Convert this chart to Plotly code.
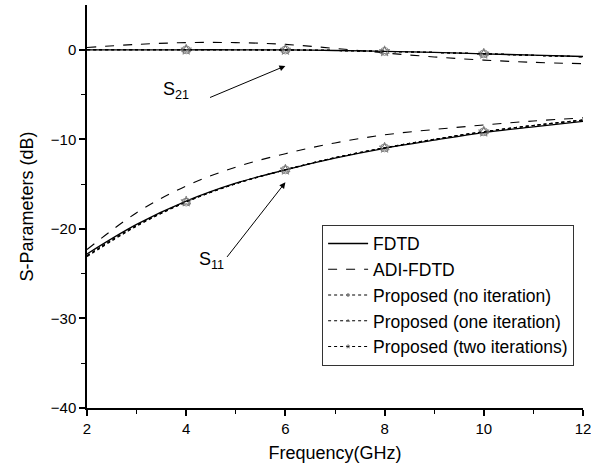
import plotly.graph_objects as go

freq = [2, 3, 4, 5, 6, 7, 8, 9, 10, 11, 12]

# S21 (dB)
s21_fdtd = [0.0, 0.0, 0.0, 0.0, -0.02, -0.08, -0.18, -0.3, -0.45, -0.6, -0.75]
s21_adi = [0.25, 0.6, 0.8, 0.8, 0.6, 0.15, -0.35, -0.8, -1.15, -1.4, -1.55]
s21_prop0 = [0.0, 0.0, 0.0, 0.0, -0.02, -0.08, -0.18, -0.3, -0.45, -0.62, -0.78]
s21_prop1 = [0.0, 0.0, 0.0, 0.0, -0.02, -0.08, -0.18, -0.3, -0.45, -0.62, -0.78]
s21_prop2 = [0.0, 0.0, 0.0, 0.0, -0.02, -0.08, -0.18, -0.3, -0.45, -0.62, -0.78]

# S11 (dB)
s11_fdtd = [-22.8, -19.5, -16.9, -14.9, -13.4, -12.1, -11.0, -10.1, -9.25, -8.6, -8.0]
s11_adi = [-22.3, -18.2, -15.2, -13.1, -11.6, -10.4, -9.5, -8.9, -8.4, -7.95, -7.6]
s11_prop0 = [-23.1, -19.7, -17.0, -14.95, -13.4, -12.05, -10.95, -10.0, -9.15, -8.45, -7.85]
s11_prop1 = [-23.0, -19.65, -17.0, -14.95, -13.4, -12.05, -10.95, -10.0, -9.15, -8.45, -7.85]
s11_prop2 = [-23.0, -19.6, -16.95, -14.95, -13.4, -12.05, -10.95, -10.0, -9.15, -8.45, -7.85]

# marker positions (GHz) used for the proposed curves
marker_freq = [4, 6, 8, 10]

legend_names = ["FDTD", "ADI-FDTD", "Proposed (no iteration)",
                "Proposed (one iteration)", "Proposed (two iterations)"]

x_ticks = [2, 4, 6, 8, 10, 12]
y_ticks = [-40, -30, -20, -10, 0]

msize = [8 if f in marker_freq else 0 for f in freq]

fig = go.Figure()

def add_curve(y, name, dash, show, symbol=None):
    kw = dict(x=freq, y=y, name=name, legendgroup=name, showlegend=show,
              line=dict(color="black", width=1.3 if dash == "solid" else 1.1, dash=dash, shape="spline"),
              hoverinfo="skip")
    if symbol is None:
        kw["mode"] = "lines"
    else:
        kw["mode"] = "lines+markers"
        kw["marker"] = dict(symbol=symbol, size=msize, color="#666666",
                            line=dict(color="#666666", width=1))
    fig.add_trace(go.Scatter(**kw))

for show, ys in [(True, (s11_fdtd, s11_adi, s11_prop0, s11_prop1, s11_prop2)),
                 (False, (s21_fdtd, s21_adi, s21_prop0, s21_prop1, s21_prop2))]:
    add_curve(ys[0], legend_names[0], "solid", show)
    add_curve(ys[1], legend_names[1], "dash", show)
    add_curve(ys[2], legend_names[2], "dot", show, "circle-open")
    add_curve(ys[3], legend_names[3], "dot", show, "triangle-up-open")
    add_curve(ys[4], legend_names[4], "dot", show, "star-open")

font = "Liberation Sans, Arial, sans-serif"

fig.update_layout(
    width=591, height=471,
    margin=dict(l=87, r=8, t=5, b=63),
    plot_bgcolor="white", paper_bgcolor="white",
    font=dict(family=font, color="black", size=15),
    xaxis=dict(range=[2, 12], tickvals=x_ticks, showgrid=False, zeroline=False,
               showline=True, linecolor="black", linewidth=1.5,
               ticks="outside", ticklen=6, tickwidth=1.5, tickcolor="black",
               ticklabeloverflow="allow", automargin=False,
               minor=dict(dtick=1, ticks="outside", ticklen=4, tickwidth=1.2, tickcolor="black"),
               title=dict(text="Frequency(GHz)", font=dict(size=18), standoff=11),
               tickfont=dict(size=15)),
    yaxis=dict(range=[-40, 5], tickvals=y_ticks, showgrid=False, zeroline=False,
               showline=True, linecolor="black", linewidth=1.5,
               ticks="outside", ticklen=6, tickwidth=1.5, tickcolor="black",
               automargin=False,
               minor=dict(tickvals=[-35, -25, -15, -5], ticks="outside", ticklen=4, tickwidth=1.2, tickcolor="black"),
               title=dict(text="S-Parameters (dB)", font=dict(size=18), standoff=12),
               tickfont=dict(size=15)),
    legend=dict(x=0.474, y=0.455, xanchor="left", yanchor="top",
                bordercolor="#333333", borderwidth=1, bgcolor="white",
                font=dict(size=17.5), tracegroupgap=0, itemwidth=40),
    showlegend=True,
)

# arrows
fig.add_annotation(x=6.0, y=-1.8, ax=4.45, ay=-5.4, xref="x", yref="y", axref="x", ayref="y",
                   text="", showarrow=True, arrowhead=2, arrowsize=1.2, arrowwidth=1, arrowcolor="black")
fig.add_annotation(x=6.0, y=-14.8, ax=4.8, ay=-23.3, xref="x", yref="y", axref="x", ayref="y",
                   text="", showarrow=True, arrowhead=2, arrowsize=1.2, arrowwidth=1, arrowcolor="black")
# labels
fig.add_annotation(x=3.8, y=-4.5, xref="x", yref="y", text="S<sub>21</sub>", showarrow=False,
                   font=dict(size=18))
fig.add_annotation(x=4.5, y=-23.5, xref="x", yref="y", text="S<sub>11</sub>", showarrow=False,
                   font=dict(size=18))

fig.write_html("out.html")
